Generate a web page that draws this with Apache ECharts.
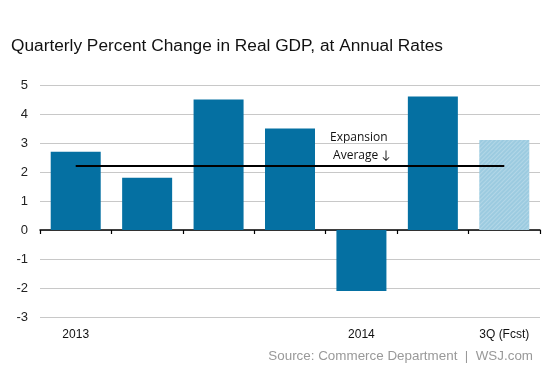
<!DOCTYPE html>
<html>
<head>
<meta charset="utf-8">
<script src="https://cdn.jsdelivr.net/npm/echarts@6/dist/echarts.min.js"></script>
<style>html,body{margin:0;padding:0;background:#fff}#c{width:553px;height:369px}</style>
</head>
<body>
<div id="c"></div>
<script>
const categories = ['1Q 2013','2Q 2013','3Q 2013','4Q 2013','1Q 2014','2Q 2014','3Q 2014'];
const tickLabels = ['2013','','','','2014','','3Q (Fcst)'];
const gdpChange = [2.7, 1.8, 4.5, 3.5, -2.1, 4.6, 3.1];
const forecastFlags = [false, false, false, false, false, false, true];
const expansionAverage = 2.2;
const yTicks = {min: -3, max: 5, interval: 1};

const chart = echarts.init(document.getElementById('c'));
const barData = gdpChange.map((v, i) => forecastFlags[i] ? {
  value: v,
  itemStyle: {
    color: '#9ccbe0',
    decal: {symbol: 'rect', color: 'rgba(255,255,255,0.22)', dashArrayX: [1, 0], dashArrayY: [1, 1.2], rotation: -Math.PI / 4, symbolSize: 1}
  }
} : v);

chart.setOption({
  animation: false,
  title: [
    {text: 'Quarterly Percent Change in Real GDP, at Annual Rates', left: 6, top: 33,
     textStyle: {fontFamily: 'Liberation Sans, Arial, sans-serif', fontSize: 17.3, fontWeight: 'normal', color: '#111'}},
    {text: 'Source: Commerce Department  |  WSJ.com', right: 15, top: 345,
     textStyle: {fontFamily: 'Liberation Sans, Arial, sans-serif', fontSize: 13.4, fontWeight: 'normal', color: '#999'}}
  ],
  grid: {left: 40, right: 13, top: 85, bottom: 52, containLabel: false},
  xAxis: [
    {type: 'category', data: categories, boundaryGap: true,
     axisLine: {onZero: true, lineStyle: {color: '#000', width: 1.5}},
     axisTick: {show: true, interval: 0, length: 4, inside: false, lineStyle: {color: '#000', width: 1.2}},
     axisLabel: {show: false}},
    {type: 'category', data: categories, boundaryGap: true, position: 'bottom',
     axisLine: {show: false, onZero: false}, axisTick: {show: false},
     axisLabel: {interval: 0, margin: 12, color: '#111', fontSize: 12, fontFamily: 'Liberation Sans, Arial, sans-serif',
       formatter: (v, i) => tickLabels[i]}}
  ],
  yAxis: {type: 'value', min: yTicks.min, max: yTicks.max, interval: yTicks.interval,
    axisLine: {show: false}, axisTick: {show: false},
    axisLabel: {margin: 12, color: '#222', fontSize: 13, fontFamily: 'Liberation Sans, Arial, sans-serif'},
    splitLine: {lineStyle: {color: '#c8c8c8', width: 1}}},
  series: [{
    type: 'bar', xAxisIndex: 0, data: barData, barWidth: '70%',
    itemStyle: {color: '#0570a2'},
    markLine: {
      silent: true, symbol: 'none', label: {show: false},
      lineStyle: {color: '#000', width: 2, type: 'solid'},
      data: [[{coord: [0, expansionAverage]}, {coord: [6, expansionAverage]}]]
    }
  }],
  graphic: [{
    type: 'text', left: 330, top: 129,
    style: {text: 'Expansion\n Average \u2193', fontFamily: 'Open Sans, Lato, sans-serif', fontSize: 12, fill: '#111', lineHeight: 18, align: 'left'}
  }]
});
</script>
</body>
</html>
